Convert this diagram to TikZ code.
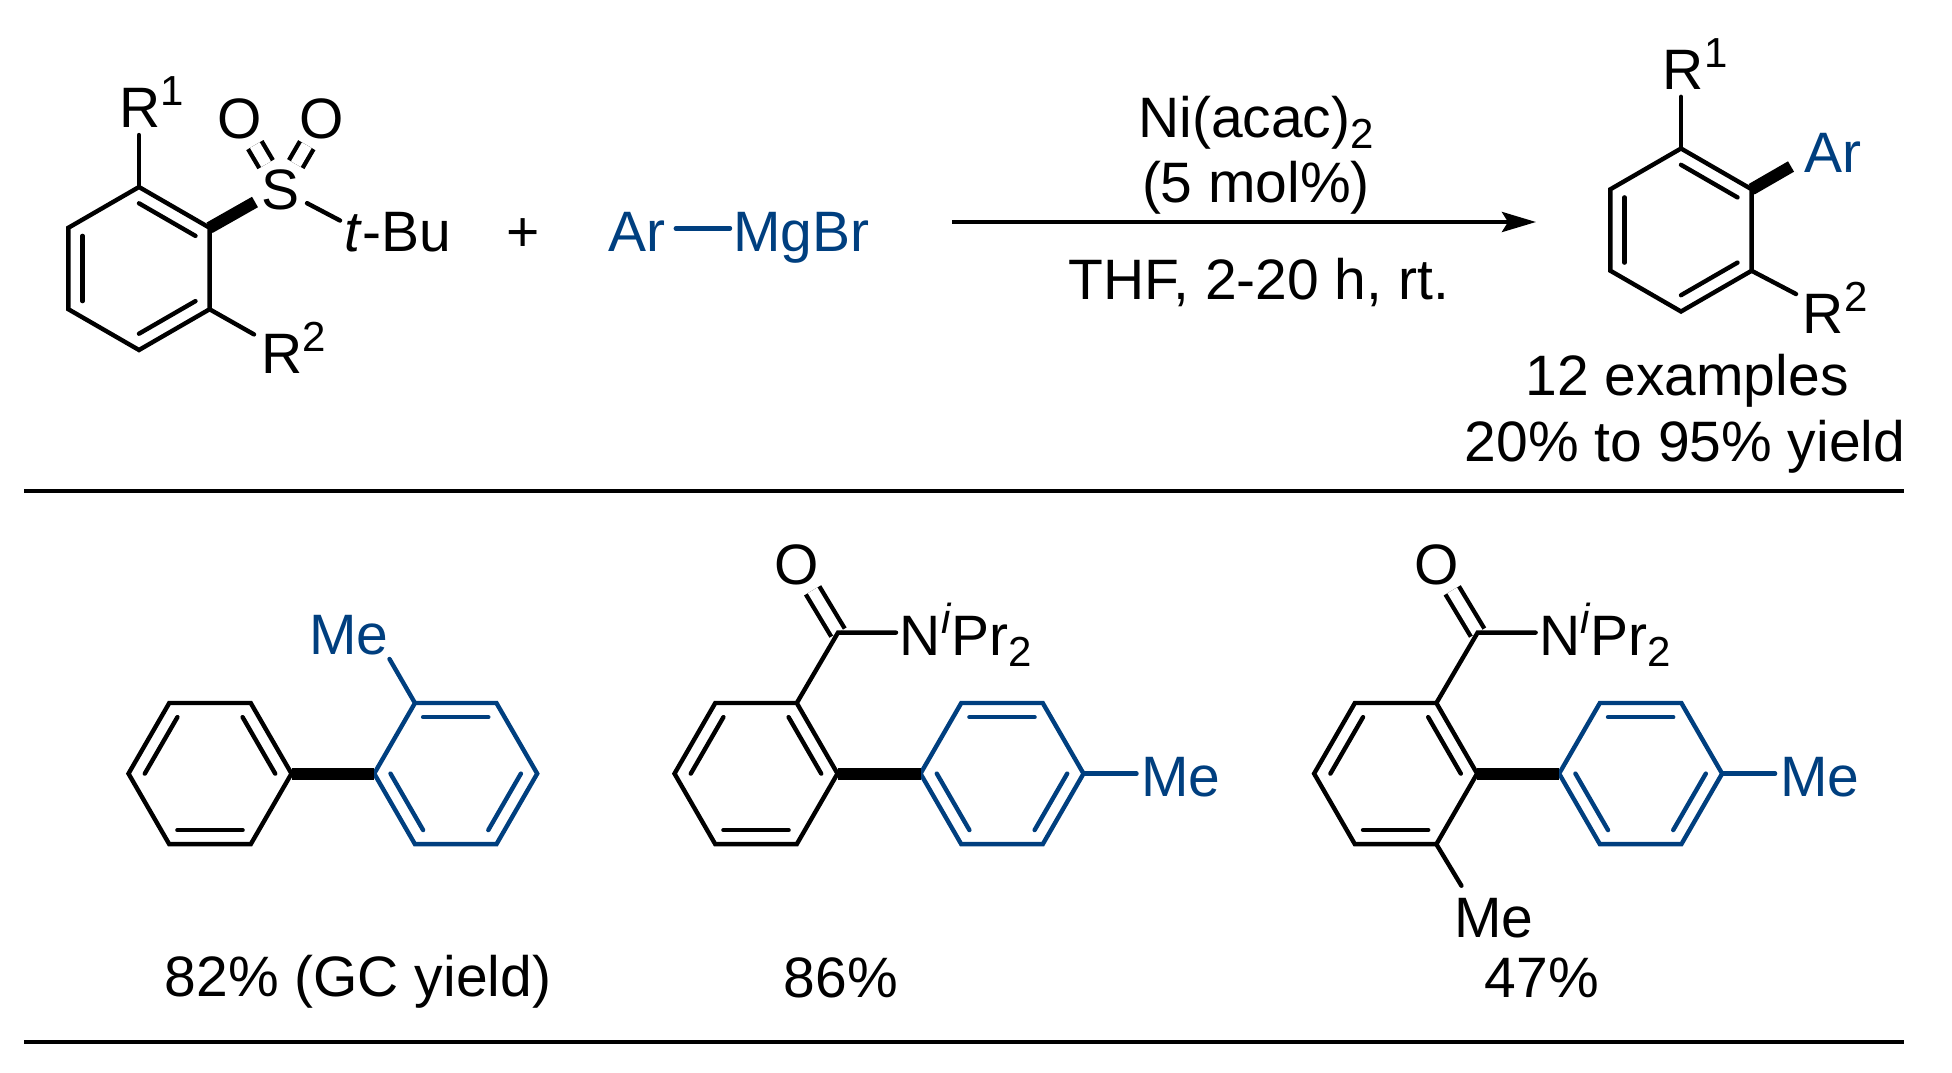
\documentclass[tikz,border=0pt]{standalone}
\usepackage{fontspec}
\setmainfont{Liberation Sans}
\usetikzlibrary{calc, arrows.meta}
\definecolor{arblue}{RGB}{0,63,127}

\newcommand{\sps}[1]{\raisebox{11pt}{\fontsize{21}{21}\selectfont #1}}
\newcommand{\sbs}[1]{\raisebox{-5.5pt}{\fontsize{21}{21}\selectfont #1}}

% name, centre x, centre y, start angle, colour, inner bonds
\newcommand{\hexring}[6]{
  \coordinate (#1c) at (#2,#3);
  \foreach \i in {1,...,6}
    \coordinate (#1\i) at ($(#1c)+({#4+60*\i}:81.5)$);
  \draw[bond,#5] (#11) -- (#12) -- (#13) -- (#14) -- (#15) -- (#16) -- cycle;
  \foreach \u/\v in {#6}
    \draw[bond,#5] ($(#1c)!.8!(#1\u)$) -- ($(#1c)!.8!(#1\v)$);
}
% biaryl with amide: name, left ring x, right ring x
\newcommand{\amidecpd}[3]{
  \coordinate (#1k) at (#2,773.6);
  \coordinate (#1m) at (#3,773.6);
  \node[atom] (#1o) at ($(#1k)+(41,-209.2)$) {O};
  \coordinate (#1e) at ($(#1k)+(82,-141)$);
  \draw[dbl] (#1o) -- (#1e);
  \node[lab,anchor=base west] (#1n) at ($(#1k)+(143.5,-118)$) {N\sps{\textit{i}}Pr\sbs{2}};
  \node[lab,anchor=base west,text=arblue] (#1me) at ($(#1m)+(139,23)$) {Me};
  \coordinate (#1ne) at ($(#1k)+(140,-141)$);
  \coordinate (#1mb) at ($(#1m)+(134.5,0)$);
  \hexring{#1a}{#2}{773.6}{0}{black}{3/4,5/6,1/2}
  \hexring{#1b}{#3}{773.6}{0}{arblue}{4/5,2/3,6/1}
  \draw[bond] (#1a5) -- (#1e) -- (#1ne);
  \draw[boldbond] (#1a6) -- (#1b3);
  \draw[bond,arblue] (#1b6) -- (#1mb);
}

\tikzset{
  lab/.style={anchor=base, inner sep=0pt, font=\fontsize{28.5}{34}\selectfont},
  atom/.style={lab, anchor=center, circle, minimum size=29pt},
  bond/.style={line width=2.2pt, line cap=round},
  dbl/.style={line width=2.2pt, double, double distance=5.6pt},
  boldbond/.style={line width=6pt},
  rulebar/.style={line width=2.1pt},
  rxnarrow/.style={line width=2.1pt, -{Stealth[length=17pt,width=10pt,inset=3pt]}}
}

\begin{document}
\begin{tikzpicture}[x=0.5pt, y=-0.5pt]
\useasboundingbox (0,0) rectangle (1952,1072);

% sulfone
\hexring{a}{139}{268.5}{30}{black}{2/3,4/5,6/1}
\node[lab,anchor=base west] (ra) at (118.7,127) {R\sps{1}};
\node[lab,anchor=base west] (rb) at (261.3,373) {R\sps{2}};
\node[atom] (s) at (281,189.5) {S};
\node[atom] (ol) at (239.5,119) {O};
\node[atom] (or) at (322,119) {O};
\node[lab,anchor=base west] (tbu) at (344,251) {\textit{t}-Bu};
\coordinate (rae) at (139,135);
\coordinate (rbe) at (254,334.4);
\coordinate (tbe) at (340,220.5);
\coordinate (wm) at (255,202);
\draw[bond] (a4) -- (rae);
\draw[bond] (a6) -- (rbe);
\draw[bond] (s) -- (tbe);
\draw[dbl] (s) -- (ol);
\draw[dbl] (s) -- (or);
\draw[boldbond] (a5) -- (wm);

% grignard
\node[lab] (plus) at (522.7,251) {+};
\node[lab,anchor=base west,text=arblue,inner xsep=5pt,text height=22.6pt,text depth=0pt] (ar) at (598,251) {Ar};
\node[lab,anchor=base west,text=arblue,inner xsep=1.5pt,text height=22.6pt,text depth=0pt] (mgbr) at (730,251) {MgBr};
\draw[bond,arblue] (ar) -- (mgbr);

% arrow
\coordinate (arrs) at (952,222);
\coordinate (arre) at (1536,222);
\draw[rxnarrow] (arrs) -- (arre);
\node[lab] (cat) at (1256,137.8) {Ni(acac)\sbs{2}};
\node[lab] (load) at (1256,202.4) {(5 mol\%)};
\node[lab] (cond) at (1259,299.8) {THF, 2-20 h, rt.};

% product
\hexring{p}{1681}{230}{30}{black}{2/3,4/5,6/1}
\node[lab,anchor=base west] (pra) at (1662.5,89.6) {R\sps{1}};
\node[lab,anchor=base west] (prb) at (1802.5,333) {R\sps{2}};
\node[lab,anchor=base west,text=arblue] (par) at (1803.6,172) {Ar};
\coordinate (prae) at (1681,96.8);
\coordinate (prbe) at (1796,294);
\coordinate (pwm) at (1791,166.5);
\draw[bond] (p4) -- (prae);
\draw[bond] (p6) -- (prbe);
\draw[boldbond] (p5) -- (pwm);
\node[lab] (nex) at (1687,395) {12 examples};
\node[lab] (rng) at (1685,461) {20\% to 95\% yield};

% rules
\foreach \n/\y in {ruleA/491, ruleB/1042}{
  \coordinate (\n l) at (24,\y);
  \coordinate (\n r) at (1904,\y);
  \draw[rulebar] (\n l) -- (\n r);
}

% first biaryl
\node[lab,anchor=base west,text=arblue] (mea) at (309,654.6) {Me};
\coordinate (meae) at (389.5,659);
\hexring{u}{210}{773.6}{0}{black}{3/4,5/6,1/2}
\hexring{v}{455.7}{773.6}{0}{arblue}{4/5,2/3,6/1}
\draw[boldbond] (u6) -- (v3);
\draw[bond,arblue] (v4) -- (meae);
\node[lab] (ya) at (358,996) {82\% (GC yield)};

% amides
\amidecpd{w}{756}{1002}
\node[lab] (yb) at (841,997) {86\%};
\amidecpd{z}{1395.6}{1640.6}
\node[lab,anchor=base west] (meb) at (1454,937) {Me};
\coordinate (mebe) at (1461.4,885.7);
\draw[bond] (za1) -- (mebe);
\node[lab] (yc) at (1542,997.5) {47\%};
\end{tikzpicture}
\end{document}
